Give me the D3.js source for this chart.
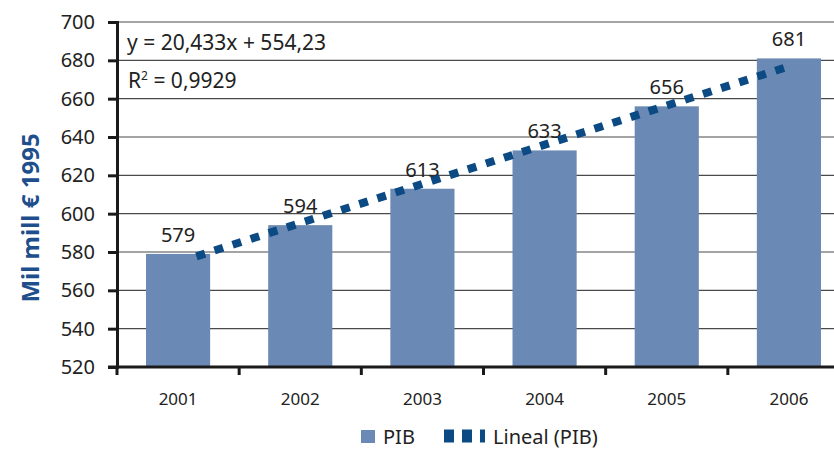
<!DOCTYPE html>
<html>
<head>
<meta charset="utf-8">
<script src="https://cdn.jsdelivr.net/npm/d3@7"></script>
<style>
  body { margin: 0; background: #fff; }
  text { font-family: "Noto Sans", "Open Sans", sans-serif; }
</style>
</head>
<body>
<div id="chart"></div>
<script>
// data
const years = ["2001", "2002", "2003", "2004", "2005", "2006"];
const pib = [579, 594, 613, 633, 656, 681];
const yTicks = [520, 540, 560, 580, 600, 620, 640, 660, 680, 700];
const trendSlope = 20.433;
const trendIntercept = 554.23;
const trendRange = [1.15, 6]; // the dotted trend starts just right of the first bar's centre
const equationLabel = "y = 20,433x + 554,23";
const r2Value = "0,9929";

const width = 834, height = 453;
const margin = {top: 22, right: -16, bottom: 86, left: 117};
const innerW = width - margin.left - margin.right;
const innerH = height - margin.top - margin.bottom;

const barColor = "#6a89b4";
const trendColor = "#0b4a82";
const textColor = "#222";

const svg = d3.select("#chart").append("svg")
    .attr("width", width)
    .attr("height", height);

const g = svg.append("g")
    .attr("transform", "translate(" + margin.left + "," + margin.top + ")");

const xScale = d3.scaleBand().domain(years).range([0, innerW])
    .paddingInner(0.475).paddingOuter(0.2375);
const yScale = d3.scaleLinear().domain([520, 700]).range([innerH, 0]);
const step = xScale.step();
// x position of trend index k (1 = centre of first category)
const xTrend = k => xScale(years[0]) + xScale.bandwidth() / 2 + (k - 1) * step;

// gridlines
g.append("g")
    .selectAll("line")
    .data(yTicks.slice(1))
    .join("line")
    .attr("x1", 0)
    .attr("x2", innerW)
    .attr("y1", d => yScale(d))
    .attr("y2", d => yScale(d))
    .attr("stroke", "#4a4a4a")
    .attr("stroke-width", 1.2);

// bars
g.selectAll(".bar")
    .data(pib)
    .join("rect")
    .attr("class", "bar")
    .attr("x", (d, i) => xScale(years[i]))
    .attr("y", d => yScale(d))
    .attr("width", xScale.bandwidth())
    .attr("height", d => innerH - yScale(d))
    .attr("fill", barColor);

// value labels
g.selectAll(".valLabel")
    .data(pib)
    .join("text")
    .attr("class", "valLabel")
    .attr("x", (d, i) => xScale(years[i]) + xScale.bandwidth() / 2)
    .attr("y", d => yScale(d) - 12)
    .attr("text-anchor", "middle")
    .attr("font-size", 20)
    .attr("fill", textColor)
    .text(d => d);

// linear trend
const trendPts = trendRange.map(k => [xTrend(k), yScale(trendIntercept + trendSlope * k)]);
g.append("path")
    .attr("d", d3.line()(trendPts))
    .attr("fill", "none")
    .attr("stroke", trendColor)
    .attr("stroke-width", 8)
    .attr("stroke-dasharray", "9,10");

// axes
const yAxis = g.append("g")
    .call(d3.axisLeft(yScale).tickValues(yTicks).tickSize(9).tickFormat(d3.format("d")));
yAxis.select(".domain").attr("stroke", "#1a1a1a").attr("stroke-width", 3);
yAxis.selectAll(".tick line").attr("stroke", "#1a1a1a").attr("stroke-width", 3);
yAxis.selectAll(".tick text")
    .attr("x", -22)
    .attr("font-size", 20)
    .attr("font-family", "Noto Sans, sans-serif")
    .attr("fill", textColor);

const xAxis = g.append("g")
    .attr("transform", "translate(0," + innerH + ")");
xAxis.append("line")
    .attr("x1", -9).attr("x2", innerW)
    .attr("stroke", "#1a1a1a").attr("stroke-width", 3);
xAxis.selectAll(".xtick")
    .data(d3.range(years.length + 1))
    .join("line")
    .attr("x1", i => i * step)
    .attr("x2", i => i * step)
    .attr("y1", 0)
    .attr("y2", 8)
    .attr("stroke", "#1a1a1a")
    .attr("stroke-width", 3);
xAxis.selectAll(".xlabel")
    .data(years)
    .join("text")
    .attr("x", d => xScale(d) + xScale.bandwidth() / 2)
    .attr("y", 38)
    .attr("text-anchor", "middle")
    .attr("font-size", 17)
    .attr("fill", textColor)
    .text(d => d);

// y axis title
svg.append("text")
    .attr("transform", "translate(39,218) rotate(-90)")
    .attr("text-anchor", "middle")
    .attr("font-size", 24)
    .attr("font-weight", "bold")
    .attr("fill", "#1f4e8c")
    .text("Mil mill € 1995");

// equation
svg.append("text")
    .attr("x", 127).attr("y", 50)
    .attr("font-size", 21)
    .attr("fill", textColor)
    .text(equationLabel);
const r2 = svg.append("text")
    .attr("x", 128).attr("y", 88)
    .attr("font-size", 21)
    .attr("fill", textColor);
r2.append("tspan").text("R");
r2.append("tspan").attr("font-size", 12).attr("dy", -8).text("2");
r2.append("tspan").attr("dy", 8).text(" = " + r2Value);

// legend
const legend = svg.append("g").attr("transform", "translate(361,444)");
legend.append("rect")
    .attr("x", 0).attr("y", -14)
    .attr("width", 14).attr("height", 13)
    .attr("fill", barColor);
legend.append("text")
    .attr("x", 22).attr("y", 0)
    .attr("font-size", 20)
    .attr("fill", textColor)
    .text("PIB");
legend.append("line")
    .attr("x1", 83).attr("x2", 124)
    .attr("y1", -8).attr("y2", -8)
    .attr("stroke", trendColor)
    .attr("stroke-width", 13)
    .attr("stroke-dasharray", "10,8");
legend.append("text")
    .attr("x", 132).attr("y", 0)
    .attr("font-size", 20)
    .attr("fill", textColor)
    .text("Lineal (PIB)");
</script>
</body>
</html>
